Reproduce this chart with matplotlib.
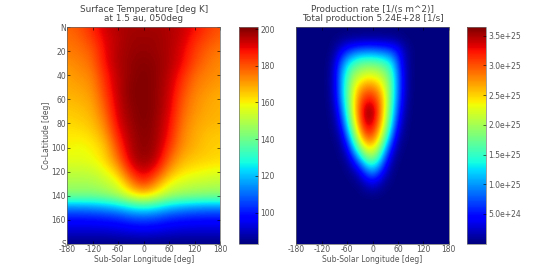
import numpy as np
import matplotlib
matplotlib.use("Agg")
import matplotlib.pyplot as plt

plt.rcParams["axes.unicode_minus"] = False

lon_edges = [-180, 180]
colat_edges = [0, 180]
xtick_vals = [-180, -120, -60, 0, 60, 120, 180]
ytick_vals = [0, 20, 40, 60, 80, 100, 120, 140, 160, 180]
ytick_labels = ["N", "20", "40", "60", "80", "100", "120", "140", "160", "S"]
temp_ticks = [100, 120, 140, 160, 180, 200]
prod_ticks = [5e24, 1e25, 1.5e25, 2e25, 2.5e25, 3e25, 3.5e25]
prod_labels = ["5.0e+24", "1.0e+25", "1.5e+25", "2.0e+25", "2.5e+25", "3.0e+25", "3.5e+25"]

# Surface temperature [K]: rows colat 0..180 step 10, columns lon -180..180 step 30
temperature = [
    [178, 180, 186, 193, 196, 197, 197, 197, 196, 194, 189, 184, 180],
    [176, 178, 183, 191, 195, 198, 198, 198, 196, 193, 186, 181, 178],
    [175, 176, 179, 190, 196, 198, 199, 198, 196, 191, 183, 178, 175],
    [172, 174, 177, 189, 196, 199, 200, 199, 196, 190, 181, 176, 173],
    [170, 172, 174, 186, 195, 199, 201, 199, 195, 186, 177, 174, 172],
    [169, 170, 172, 184, 195, 200, 201, 199, 194, 183, 175, 172, 170],
    [167, 168, 170, 181, 194, 200, 201, 199, 193, 180, 173, 170, 168],
    [165, 166, 168, 178, 193, 199, 201, 199, 192, 178, 172, 169, 168],
    [163, 164, 166, 174, 191, 198, 201, 198, 190, 176, 170, 168, 167],
    [161, 161, 163, 170, 187, 197, 200, 198, 188, 174, 169, 166, 165],
    [160, 158, 160, 165, 182, 196, 200, 197, 184, 172, 168, 165, 164],
    [157, 157, 158, 163, 176, 194, 199, 195, 178, 168, 165, 164, 163],
    [152, 152, 153, 157, 166, 186, 194, 186, 170, 162, 160, 158, 157],
    [148, 148, 148, 151, 156, 172, 185, 172, 158, 154, 152, 151, 150],
    [142, 142, 142, 144, 148, 157, 162, 156, 148, 145, 144, 143, 143],
    [112, 112, 113, 115, 118, 124, 127, 124, 118, 115, 113, 112, 112],
    [98, 98, 98, 99, 100, 103, 104, 103, 100, 99, 98, 98, 98],
    [91, 91, 91, 91, 92, 93, 94, 93, 92, 91, 91, 91, 91],
    [83, 83, 83, 83, 83, 83, 83, 83, 83, 83, 83, 83, 83],
]

# Production rate [1e25 /s/m2]: rows colat 0..180 step 10, columns lon -180..180 step 15
production = [
    [0] * 25,
    [0, 0, 0, 0, 0, 0, .01, .03, .06, .08, .09, .1, .1, .1, .09, .08, .05, .02, 0, 0, 0, 0, 0, 0, 0],
    [0, 0, 0, 0, 0, 0, .1, .35, .6, .75, .85, .9, .9, .85, .8, .7, .5, .2, .04, 0, 0, 0, 0, 0, 0],
    [0, 0, 0, 0, 0, .02, .25, .75, 1.2, 1.5, 1.7, 1.75, 1.75, 1.7, 1.55, 1.3, .75, .25, .04, 0, 0, 0, 0, 0, 0],
    [0, 0, 0, 0, 0, .03, .3, .95, 1.5, 1.95, 2.1, 2.25, 2.25, 2.15, 1.95, 1.55, .9, .3, .04, 0, 0, 0, 0, 0, 0],
    [0, 0, 0, 0, 0, .03, .3, .95, 1.65, 2.2, 2.6, 2.8, 2.8, 2.6, 2.2, 1.65, .9, .3, .03, 0, 0, 0, 0, 0, 0],
    [0, 0, 0, 0, 0, .02, .25, .9, 1.65, 2.3, 2.9, 3.2, 3.2, 2.9, 2.35, 1.6, .85, .25, .02, 0, 0, 0, 0, 0, 0],
    [0, 0, 0, 0, 0, .01, .15, .7, 1.5, 2.3, 3.0, 3.55, 3.55, 3.0, 2.3, 1.5, .7, .18, .01, 0, 0, 0, 0, 0, 0],
    [0, 0, 0, 0, 0, 0, .08, .45, 1.25, 2.1, 2.85, 3.4, 3.35, 2.85, 2.15, 1.3, .5, .1, 0, 0, 0, 0, 0, 0, 0],
    [0, 0, 0, 0, 0, 0, .03, .2, .85, 1.7, 2.45, 3.0, 3.0, 2.5, 1.8, .95, .25, .05, 0, 0, 0, 0, 0, 0, 0],
    [0, 0, 0, 0, 0, 0, 0, .07, .4, 1.15, 1.85, 2.35, 2.4, 2.0, 1.25, .5, .1, .01, 0, 0, 0, 0, 0, 0, 0],
    [0, 0, 0, 0, 0, 0, 0, .01, .12, .5, 1.05, 1.6, 1.75, 1.4, .7, .2, .02, 0, 0, 0, 0, 0, 0, 0, 0],
    [0, 0, 0, 0, 0, 0, 0, 0, .02, .1, .35, .75, .95, .7, .3, .06, 0, 0, 0, 0, 0, 0, 0, 0, 0],
    [0, 0, 0, 0, 0, 0, 0, 0, 0, .01, .05, .2, .3, .2, .05, .01, 0, 0, 0, 0, 0, 0, 0, 0, 0],
    [0] * 25, [0] * 25, [0] * 25, [0] * 25, [0] * 25,
]

W, H = 541, 271
fig = plt.figure(figsize=(W / 100, H / 100), dpi=100)
FS = 6.4
LS = 5.5
GRAY = "#555555"


def rect(l, t, r, b):
    return [l / W, 1 - b / H, (r - l) / W, (b - t) / H]


def panel(box, cbox, data, scale, vmin, vmax, title, ylab):
    ax = fig.add_axes(rect(*box))
    arr = np.asarray(data, float) * scale
    dx = 360 / (arr.shape[1] - 1) / 2
    dy = 180 / (arr.shape[0] - 1) / 2
    im = ax.imshow(arr, cmap="jet", vmin=vmin, vmax=vmax, aspect="auto",
                   interpolation="bicubic", interpolation_stage="data",
                   extent=[lon_edges[0] - dx, lon_edges[1] + dx,
                           colat_edges[1] + dy, colat_edges[0] - dy])
    ax.set_xlim(*lon_edges)
    ax.set_ylim(colat_edges[1], colat_edges[0])
    ax.set_xticks(xtick_vals)
    ax.set_title(title, fontsize=FS, pad=4.5, linespacing=1.03, color="#444444")
    ax.set_xlabel("Sub-Solar Longitude [deg]", fontsize=LS, labelpad=1.0, color=GRAY)
    if ylab:
        ax.set_yticks(ytick_vals)
        ax.set_yticklabels(ytick_labels)
        ax.set_ylabel("Co-Latitude [deg]", fontsize=LS, labelpad=0.5, color=GRAY)
    else:
        ax.set_yticks([])
    ax.tick_params(direction="in", top=True, right=True, length=2, width=0.4,
                   labelsize=LS, pad=1.0, labelcolor=GRAY)
    for s in ax.spines.values():
        s.set_linewidth(0.5)
        s.set_color("#666666")
    cax = fig.add_axes(rect(*cbox))
    cb = fig.colorbar(im, cax=cax)
    cb.outline.set_linewidth(0.5)
    cb.outline.set_edgecolor("#777777")
    cax.tick_params(direction="in", length=2, width=0.4, labelsize=LS, pad=1.5,
                    labelcolor=GRAY)
    return cb


cb1 = panel((67.3, 27.3, 220, 243.7), (239, 27.3, 258.3, 243.7), temperature, 1, 83, 201,
            "Surface Temperature [deg K]\nat 1.5 au, 050deg", True)
cb1.set_ticks(temp_ticks)
cb2 = panel((296.3, 27.3, 448.7, 243.7), (467.3, 27.3, 486, 243.7), production, 1e25, 0, 3.64e25,
            "Production rate [1/(s m^2)]\nTotal production 5.24E+28 [1/s]", False)
cb2.set_ticks(prod_ticks)
cb2.set_ticklabels(prod_labels)

fig.savefig("out.png", dpi=100)
